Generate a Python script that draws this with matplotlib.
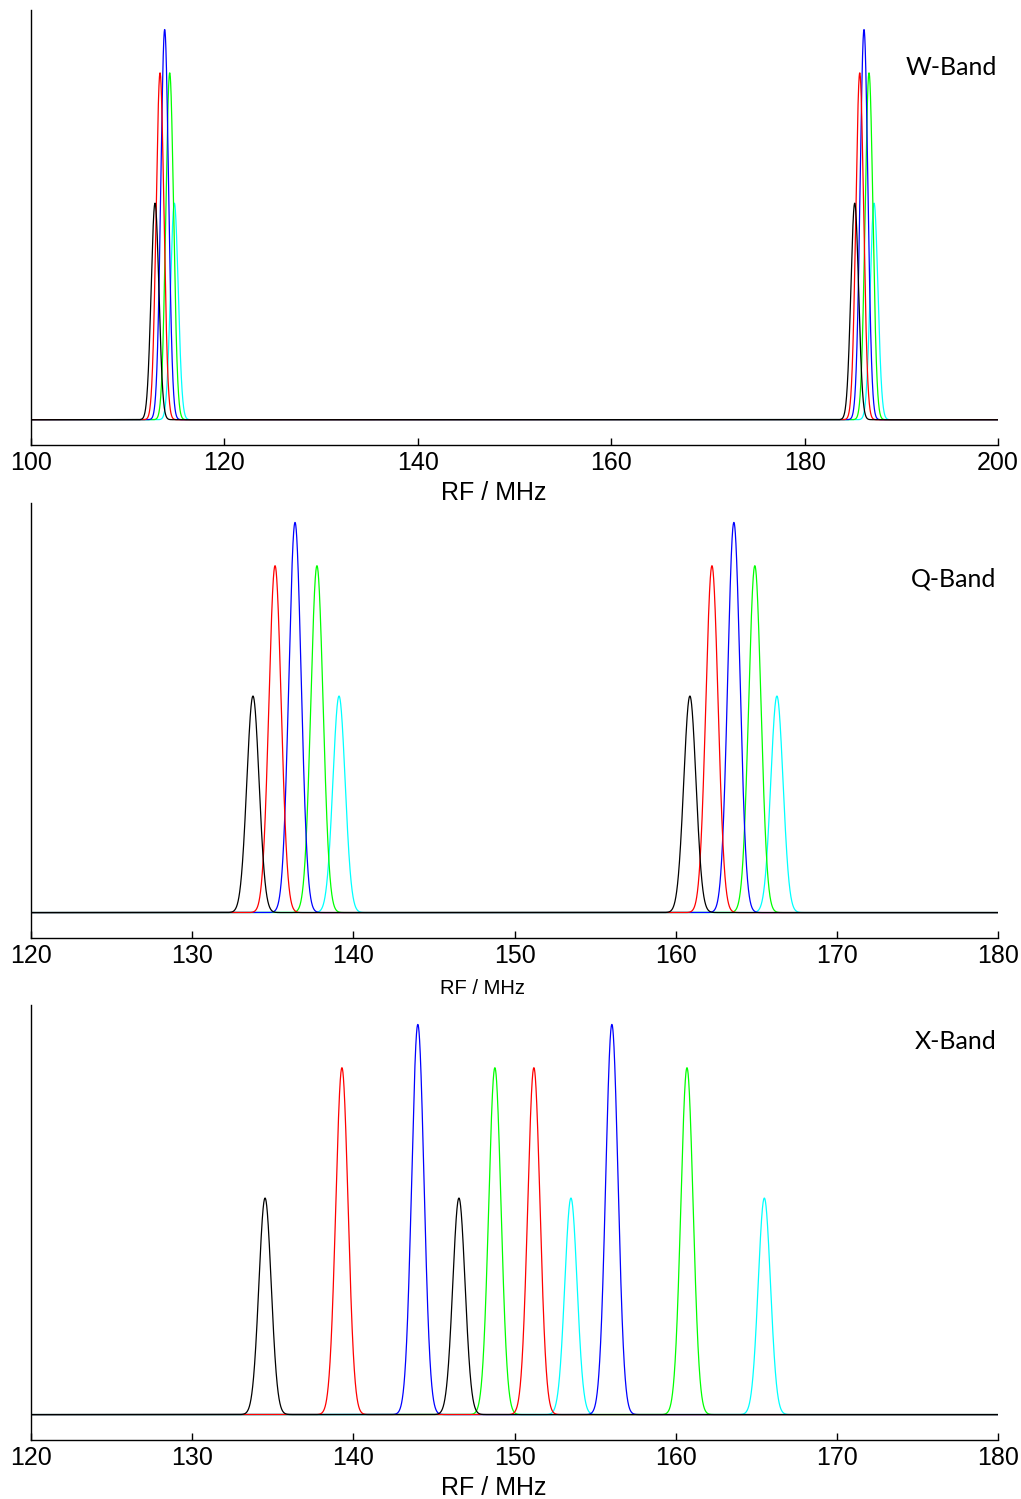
import numpy as np
import matplotlib
matplotlib.use("Agg")
import matplotlib.pyplot as plt

# ---- data ----
colors = ["k", "r", "b", "#00ff00", "#00ffff"]
amplitudes = [0.555, 0.889, 1.0, 0.889, 0.555]   # black, red, blue, green, cyan

# peak positions (MHz): [low-frequency peak, high-frequency peak] per colour
w_peaks = [[112.82, 185.18], [113.34, 185.70], [113.82, 186.14], [114.34, 186.66], [114.82, 187.18]]
q_peaks = [[133.77, 160.88], [135.14, 162.25], [136.38, 163.61], [137.74, 164.91], [139.11, 166.28]]
x_peaks = [[134.52, 146.55], [139.29, 151.20], [144.00, 156.04], [148.78, 160.70], [153.50, 165.50]]

bands = ["W-Band", "Q-Band", "X-Band"]
xlims = [(100, 200), (120, 180), (120, 180)]
xticks = [[100, 120, 140, 160, 180, 200],
          [120, 130, 140, 150, 160, 170, 180],
          [120, 130, 140, 150, 160, 170, 180]]
linewidths_mhz = [0.40, 0.38, 0.38]   # gaussian sigma
xlabel = "RF / MHz"

# ---- figure ----
fig = plt.figure(figsize=(10.21, 14.99), dpi=100)
left, width = 0.0304, 0.9471
axes_rects = [(left, 0.7031, width, 0.2902),
              (left, 0.3743, width, 0.2902),
              (left, 0.0394, width, 0.2902)]
label_sizes = [18, 14.5, 18]
label_x = [0.478, 0.467, 0.478]
label_y_px = [-0.111, -0.117, -0.111]
band_y = [0.869, 0.825, 0.915]
all_peaks = [w_peaks, q_peaks, x_peaks]

for i in range(3):
    ax = fig.add_axes(axes_rects[i])
    x = np.linspace(xlims[i][0], xlims[i][1], 20001)
    order = [4, 3, 2, 1, 0]
    for c in order:
        y = np.zeros_like(x)
        for p in all_peaks[i][c]:
            y += amplitudes[c] * np.exp(-0.5 * ((x - p) / linewidths_mhz[i]) ** 2)
        ax.plot(x, y, color=colors[c], lw=0.9)
    ax.set_xlim(*xlims[i])
    ax.set_ylim(-0.065, 1.05)
    ax.set_xticks(xticks[i])
    ax.set_yticks([])
    for s in ["top", "right"]:
        ax.spines[s].set_visible(False)
    ax.spines["left"].set_linewidth(1.0)
    ax.spines["bottom"].set_linewidth(1.0)
    ax.tick_params(axis="x", direction="in", length=5, width=1, pad=4.5,
                   labelsize=18)
    for t in ax.get_xticklabels():
        t.set_fontfamily("Liberation Sans")
    ax.set_xlabel(xlabel, fontsize=label_sizes[i], family="Liberation Sans",
                  va="center")
    ax.xaxis.set_label_coords(label_x[i], label_y_px[i])
    ax.text(0.9985, band_y[i], bands[i], transform=ax.transAxes, ha="right",
            va="center", fontsize=18, family="Lato")

fig.savefig("out.png", dpi=100)
